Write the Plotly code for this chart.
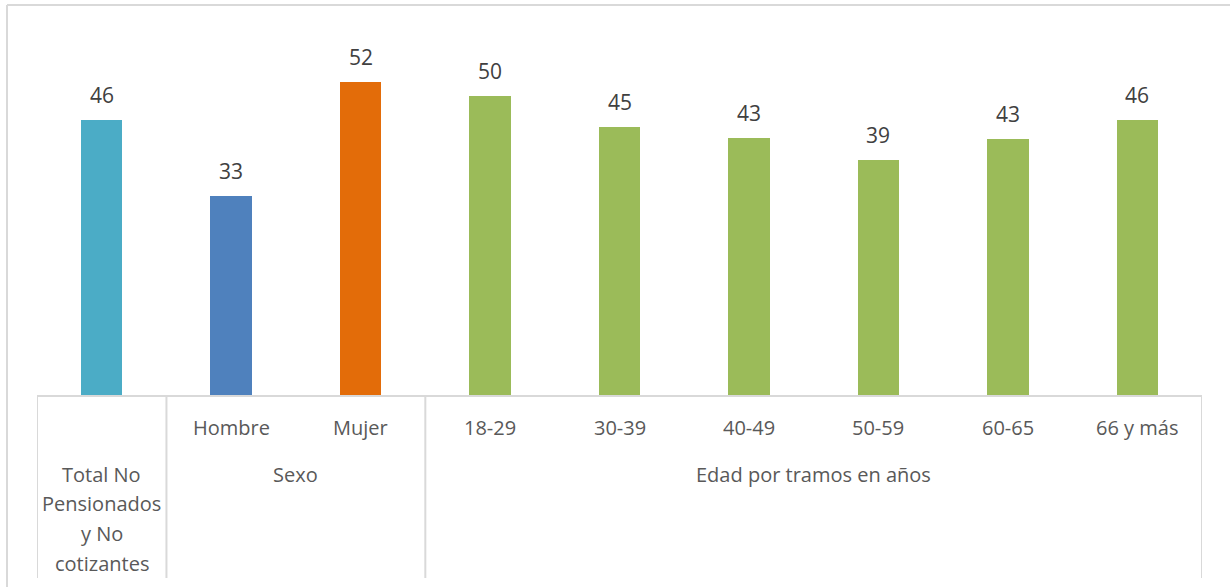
import plotly.graph_objects as go

# ---- data ----
categories = ["Total No Pensionados y No cotizantes", "Hombre", "Mujer",
              "18-29", "30-39", "40-49", "50-59", "60-65", "66 y más"]
values = [46.0, 33.3, 52.4, 50.0, 44.8, 43.0, 39.4, 42.8, 46.0]
sub_labels = ["", "Hombre", "Mujer", "18-29", "30-39", "40-49", "50-59", "60-65", "66 y más"]
total_label_lines = ["Total No", "Pensionados", "y No", "cotizantes"]
groups = [("Sexo", 1, 2), ("Edad por tramos en años", 3, 8)]
bar_colors = ["#4BACC6", "#4F81BD", "#E36C09"] + ["#9BBB59"] * 6

# ---- geometry ----
W, H = 1230, 587
L, R, T, B = 37, 1202, 36, 396   # plot area in pixels
YMAX = 60

def px_x(px):
    return (px - L) / (R - L)

def px_y(py):
    return (B - py) / (B - T)

xs = list(range(len(categories)))

fig = go.Figure()
fig.add_trace(go.Bar(
    x=xs, y=values, width=0.32,
    marker=dict(color=bar_colors, line=dict(width=0)),
    hoverinfo="skip", showlegend=False,
))

ann = []
# data labels
for x, v in zip(xs, values):
    ann.append(dict(x=x, y=v, xref="x", yref="y", text=f"{v:.0f}", showarrow=False,
                    yshift=25, yanchor="middle",
                    font=dict(size=21, color="#404040", family="Open Sans")))

label_font = dict(size=20, color="#595959", family="Open Sans")
# first-level labels
for x, lab in zip(xs, sub_labels):
    if lab:
        ann.append(dict(x=x, y=px_y(428), xref="x", yref="paper", text=lab,
                        showarrow=False, yanchor="middle", font=label_font))
# group labels
for name, a, b in groups:
    ann.append(dict(x=(a + b) / 2, y=px_y(474), xref="x", yref="paper", text=name,
                    showarrow=False, yanchor="middle", font=label_font))
# total label (multi-line)
for i, line in enumerate(total_label_lines):
    ann.append(dict(x=0, y=px_y(474 + i * 29.7), xref="x", yref="paper", text=line,
                    showarrow=False, yanchor="middle", font=label_font))

grid = dict(color="#D9D9D9", width=2)
shapes = []
# axis baseline
shapes.append(dict(type="line", xref="paper", yref="paper", x0=0, x1=1, y0=0, y1=0, line=grid))
# vertical dividers of the category table
for bx in [-0.5, 0.5, 2.5, 8.5]:
    shapes.append(dict(type="line", xref="x", yref="paper", x0=bx, x1=bx,
                       y0=0, y1=px_y(578), line=grid))
# outer chart border (left & top)
shapes.append(dict(type="line", xref="paper", yref="paper", x0=px_x(7), x1=px_x(7),
                   y0=px_y(5), y1=px_y(590), line=grid))
shapes.append(dict(type="line", xref="paper", yref="paper", x0=px_x(7), x1=px_x(1232),
                   y0=px_y(5), y1=px_y(5), line=grid))

fig.update_layout(
    width=W, height=H,
    margin=dict(l=L, r=W - R, t=T, b=H - B, pad=0),
    paper_bgcolor="white", plot_bgcolor="white",
    xaxis=dict(range=[-0.5, 8.5], showticklabels=False, showgrid=False,
               zeroline=False, showline=False, ticks=""),
    yaxis=dict(range=[0, YMAX], visible=False, showgrid=False, zeroline=False),
    annotations=ann, shapes=shapes, bargap=0,
    font=dict(family="Open Sans"),
)
fig.write_html("out.html", config={"displayModeBar": False},
               post_script="document.body.style.margin='0';document.body.style.overflow='hidden';")
